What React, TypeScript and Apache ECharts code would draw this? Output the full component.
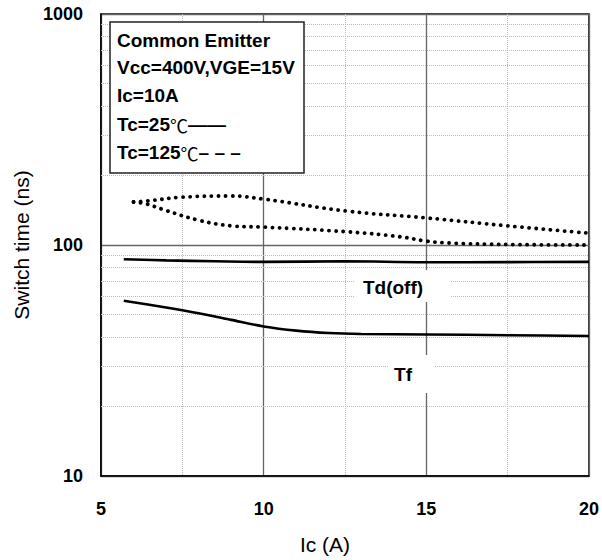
import React, { useEffect, useRef } from "react";
import * as echarts from "echarts";

// Collector current Ic (A) and switching times (ns)
const td25X = [5.7, 7, 8.5, 10, 12.5, 15, 17.5, 20];
const td25Y = [86.8, 85.8, 85, 84.5, 85, 84.2, 84.3, 84.5];

const tf25X = [5.7, 7, 8, 9, 10, 11, 12, 13, 15, 17.5, 20];
const tf25Y = [57.4, 53.6, 50.6, 47.4, 44.4, 42.6, 41.6, 41.2, 41.0, 40.7, 40.4];

const td125X = [6.0, 6.4, 7.5, 9, 10, 12.6, 15, 17.5, 20];
const td125Y = [153.5, 155, 161, 163, 158, 140, 131, 121, 112.5];

const tf125X = [6.0, 6.4, 7, 8, 9, 10, 12.6, 14.2, 15, 15.7, 17.5, 20];
const tf125Y = [153.5, 150.5, 141, 128, 121, 119.5, 114, 108.5, 104, 102, 100.5, 100];

// Minor log grid values
const minorY = [20, 30, 40, 50, 60, 70, 80, 90, 200, 300, 400, 500, 600, 700, 800, 900];

const legendLines = [
  "Common Emitter",
  "Vcc=400V,VGE=15V",
  "Ic=10A",
];

const FONT = "'Liberation Sans', Arial, Helvetica, sans-serif";

const zip = (xs: number[], ys: number[]) => xs.map((x, i) => [x, ys[i]]);

export default function App() {
  const ref = useRef<HTMLDivElement>(null);

  useEffect(() => {
    if (!ref.current) return;
    const chart = echarts.init(ref.current, undefined, { renderer: "svg" });

    const solid = { color: "#000", width: 2.6 };
    const dotted = { color: "#000", width: 3.8, type: [0.1, 7] as number[], cap: "round" };

    const textLine = (y: number, text: string, rich?: boolean) => ({
      type: "text",
      left: 117,
      top: y - 10,
      z: 102,
      style: {
        text,
        fill: "#000",
        font: `bold 19px ${FONT}`,
        ...(rich
          ? {
              rich: {
                b: { fontFamily: FONT, fontWeight: "bold", fontSize: 19, fill: "#000" },
                c: { fontFamily: "'Noto Sans CJK SC', sans-serif", fontWeight: "normal", fontSize: 18, fill: "#000" },
              },
            }
          : {}),
      },
    });

    chart.setOption({
      animation: false,
      backgroundColor: "#fff",
      grid: {
        left: 101,
        right: 12,
        top: 14,
        bottom: 84,
        show: true,
        borderColor: "#000",
        borderWidth: 1.5,
      },
      xAxis: {
        type: "value",
        min: 5,
        max: 20,
        interval: 5,
        name: "Ic (A)",
        nameLocation: "middle",
        nameGap: 58,
        nameTextStyle: { fontFamily: FONT, fontSize: 21, color: "#000", padding: [0, 40, 0, 0] },
        axisLine: { show: true, lineStyle: { color: "#000", width: 1.5 } },
        axisTick: { show: false },
        minorTick: { show: false, splitNumber: 2 },
        minorSplitLine: { show: true, lineStyle: { color: "#bbb", type: "dotted", width: 1 } },
        axisLabel: { fontFamily: FONT, fontWeight: "bold", fontSize: 18, color: "#000", margin: 24 },
        splitLine: { show: true, lineStyle: { color: "#666", width: 1.3 } },
      },
      yAxis: {
        type: "log",
        logBase: 10,
        min: 10,
        max: 1000,
        name: "Switch time (ns)",
        nameLocation: "middle",
        nameGap: 66,
        nameTextStyle: { fontFamily: FONT, fontSize: 21, color: "#000" },
        axisLine: { show: true, lineStyle: { color: "#000", width: 1.5 } },
        axisTick: { show: false },
        axisLabel: {
          fontFamily: FONT,
          fontWeight: "bold",
          fontSize: 18,
          color: "#000",
          margin: 18,
          formatter: (v: number) => String(Math.round(v)),
        },
        splitLine: { show: true, lineStyle: { color: "#666", width: 1.3 } },
      },
      series: [
        {
          name: "minor-grid",
          type: "line",
          data: [],
          silent: true,
          z: 1,
          markLine: {
            silent: true,
            symbol: "none",
            label: { show: false },
            lineStyle: { color: "#bbb", type: "dotted", width: 1 },
            data: minorY.map((v) => ({ yAxis: v })),
          },
        },
        {
          name: "Td(off) Tc=25℃",
          type: "line",
          data: zip(td25X, td25Y),
          showSymbol: false,
          smooth: 0.4,
          lineStyle: solid,
          z: 5,
        },
        {
          name: "Tf Tc=25℃",
          type: "line",
          data: zip(tf25X, tf25Y),
          showSymbol: false,
          smooth: 0.3,
          lineStyle: solid,
          z: 5,
        },
        {
          name: "Td(off) Tc=125℃",
          type: "line",
          data: zip(td125X, td125Y),
          showSymbol: false,
          smooth: 0.4,
          lineStyle: dotted,
          z: 5,
        },
        {
          name: "Tf Tc=125℃",
          type: "line",
          data: zip(tf125X, tf125Y),
          showSymbol: false,
          smooth: 0.4,
          lineStyle: dotted,
          z: 5,
        },
      ],
      graphic: [
        // condition box
        {
          type: "rect",
          z: 100,
          shape: { x: 110, y: 22, width: 194, height: 151 },
          style: { fill: "#fff", stroke: "#222", lineWidth: 1.5 },
        },
        textLine(41, legendLines[0]),
        textLine(68, legendLines[1]),
        textLine(96, legendLines[2]),
        textLine(125, "{b|Tc=25}{c|℃}{b|——}", true),
        textLine(153, "{b|Tc=125}{c|℃}{b|– – –}", true),
        // curve labels
        {
          type: "rect",
          z: 100,
          shape: { x: 355, y: 270, width: 95, height: 32 },
          style: { fill: "#fff" },
        },
        {
          type: "text",
          z: 102,
          x: 393,
          y: 287,
          style: {
            text: "Td(off)",
            fill: "#000",
            font: `bold 19px ${FONT}`,
            textAlign: "center",
            textVerticalAlign: "middle",
          },
        },
        {
          type: "rect",
          z: 100,
          shape: { x: 389, y: 355, width: 46, height: 38 },
          style: { fill: "#fff" },
        },
        {
          type: "text",
          z: 102,
          x: 403,
          y: 374,
          style: {
            text: "Tf",
            fill: "#000",
            font: `bold 19px ${FONT}`,
            textAlign: "center",
            textVerticalAlign: "middle",
          },
        },
      ],
    });

    return () => chart.dispose();
  }, []);

  return (
    <div
      ref={ref}
      style={{ position: "fixed", left: 0, top: 0, width: 602, height: 560 }}
    />
  );
}
